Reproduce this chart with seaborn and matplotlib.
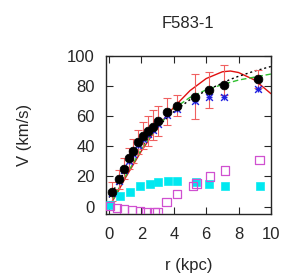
import numpy as np
import pandas as pd
import matplotlib
matplotlib.use("Agg")
import matplotlib.pyplot as plt
import seaborn as sns

# observed rotation curve
r_obs = [0.2, 0.6, 0.9, 1.2, 1.5, 1.8, 2.1, 2.4, 2.7, 3.0, 3.6, 4.2, 5.3, 6.2, 7.1, 9.2]
v_obs = [10, 18, 25, 32, 37, 43, 47, 50, 53, 57, 63, 67, 73, 77.5, 81, 85]
v_err = [6, 6, 7, 7, 8, 8, 9, 10, 10, 10, 9, 7, 15, 12, 10, 6]
v_red = [10, 18, 25, 32, 37, 43, 47, 50, 54, 57, 63, 67, 73, 77.5, 84, 85]

# asterisks
v_ast = [9, 17, 24, 30, 35, 41, 45, 48, 51, 55, 61, 65, 70, 73, 73, 78]

# gas (cyan) and disk (magenta)
r_gas = [0.05, 0.7, 1.3, 1.9, 2.5, 3.0, 3.65, 4.2, 5.4, 6.2, 7.15, 9.3]
v_gas = [1.3, 7, 10, 13.5, 15, 16, 17, 17, 16, 14.7, 14, 13.5]
r_disk = [0.05, 0.5, 0.9, 1.4, 1.9, 2.3, 2.8, 3.0, 3.55, 4.2, 5.2, 5.4, 6.25, 7.15, 9.3]
v_disk = [0.2, -1, -2, -2.5, -3, -3.5, -4, -3.5, 3, 8.5, 13.5, 15.3, 20, 24, 31]

# model curves
r_fit = [0, 0.5, 1, 1.5, 2, 3, 4, 5, 6, 7, 7.5, 8, 9, 10]
v_fit_red = [0, 9, 19, 28, 37, 53, 66, 77, 85, 89.5, 90, 89, 84, 75]
v_fit_green = [0, 10, 20, 29, 38, 53, 65, 72.5, 77.5, 81, 82.5, 84, 86, 88]
v_fit_dot = [6, 15, 24, 32, 40, 53, 63, 71, 77, 82, 84.5, 86.5, 90, 93]

sns.set_style("ticks")
plt.rcParams['font.family'] = ['Liberation Sans', 'DejaVu Sans']

fig = plt.figure(figsize=(3.0, 2.77), dpi=100)
ax = fig.add_axes([0.353, 0.227, 0.55, 0.571])

sns.lineplot(x=r_fit, y=v_fit_red, color="#e01010", lw=1.0, ax=ax)
sns.lineplot(x=r_fit, y=v_fit_green, color="#30c030", lw=1.0, ls=(0, (4, 2)), ax=ax)
sns.lineplot(x=r_fit, y=v_fit_dot, color="black", lw=1.0, ls=(0, (1.5, 2)), ax=ax)

ax.errorbar(r_obs, v_red, yerr=v_err, fmt="none", ecolor="#f06060",
            elinewidth=0.8, capsize=3, capthick=0.8, zorder=3)

sns.scatterplot(x=r_gas, y=v_gas, marker="s", s=32, color="#00e8f0",
                edgecolor="#00e8f0", ax=ax, zorder=4)
sns.scatterplot(x=r_disk, y=v_disk, marker="s", s=36, facecolor="none",
                edgecolor="#d050d0", linewidth=0.9, ax=ax, zorder=4)
sns.scatterplot(x=r_obs, y=v_ast, marker="x", s=24, color="#2020e0",
                linewidth=1.0, ax=ax, zorder=5)
sns.scatterplot(x=r_obs, y=v_ast, marker="+", s=24, color="#2020e0",
                linewidth=1.0, ax=ax, zorder=5)
sns.scatterplot(x=r_obs, y=v_obs, s=40, color="black", edgecolor="black",
                ax=ax, zorder=6)

ax.set_xlim(-0.2, 10)
ax.set_ylim(-5, 100)
ax.set_xticks([0, 2, 4, 6, 8, 10])
ax.set_yticks([0, 20, 40, 60, 80, 100])
for s in ax.spines.values():
    s.set_visible(True)
    s.set_linewidth(1.0)
ax.tick_params(axis="y", direction="in", right=True, length=5, labelsize=12, pad=8)
ax.tick_params(axis="x", direction="in", top=True, length=5, labelsize=12, pad=9)
ax.set_xlabel("r (kpc)", fontsize=12, labelpad=12)
ax.set_ylabel("V (km/s)", fontsize=12, labelpad=25)
ax.set_title("F583-1", fontsize=12, pad=20)

fig.savefig("out.png", dpi=100)
